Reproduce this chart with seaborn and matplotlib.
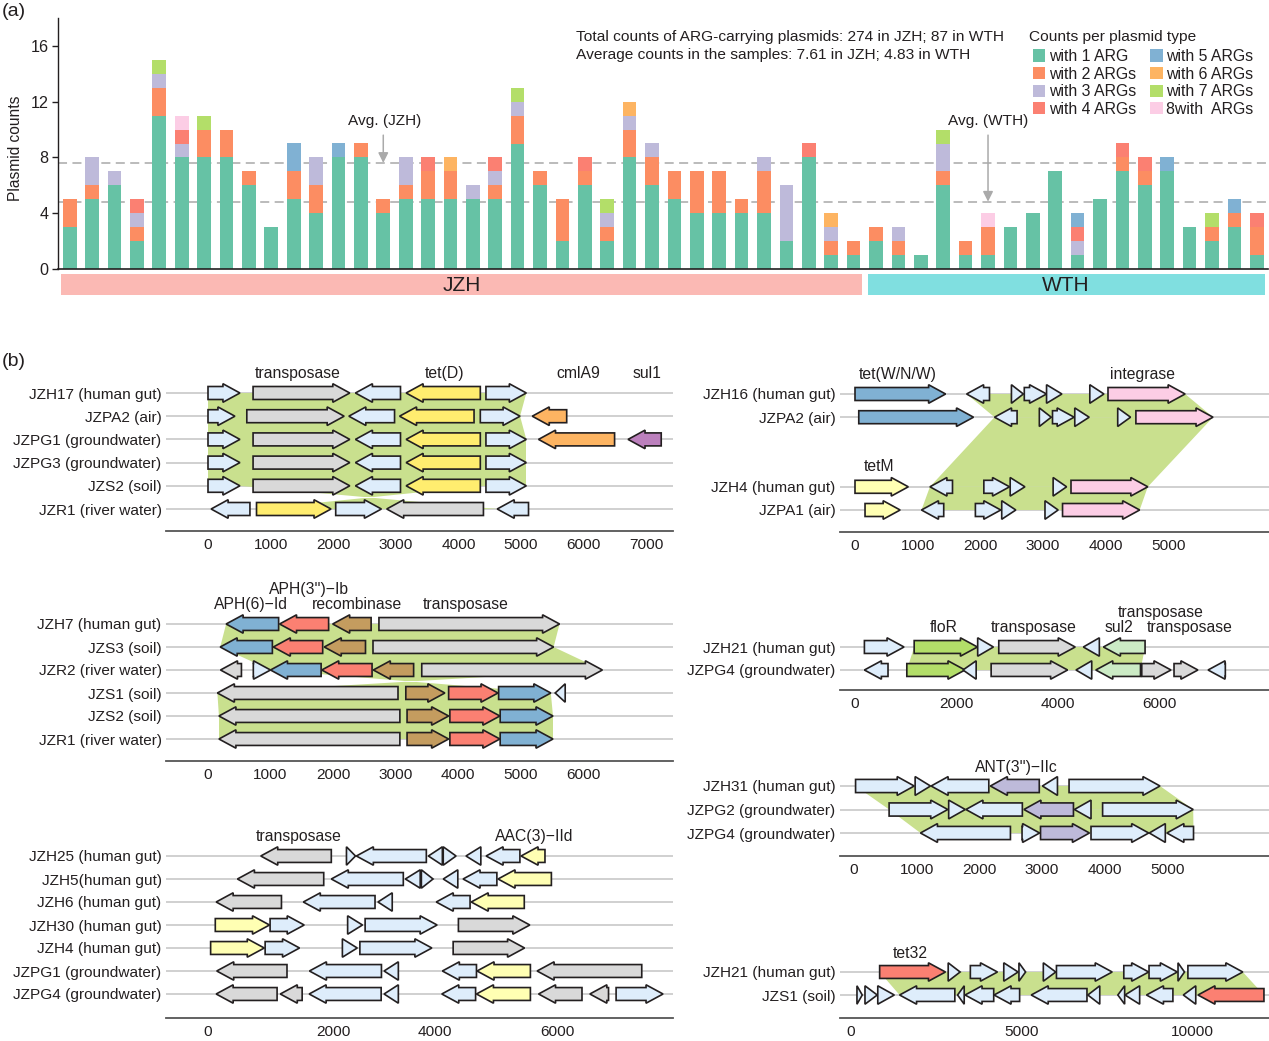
import matplotlib
matplotlib.use("Agg")
import matplotlib.pyplot as plt
from matplotlib.patches import Patch, Polygon, Rectangle
import numpy as np
import seaborn as sns

# ---- panel (a) data
samples = list(range(54))
type_labels = ["with 1 ARG", "with 2 ARGs", "with 3 ARGs", "with 4 ARGs",
               "with 5 ARGs", "with 6 ARGs", "with 7 ARGs", "8with  ARGs"]
arg1 = [3, 5, 6, 2, 11, 8, 8, 8, 6, 3, 5, 4, 8, 8, 4, 5, 5, 5, 5, 5, 9, 6, 2, 6, 2, 8, 6, 5, 4, 4, 4, 4, 2, 8, 1, 1,
        2, 1, 1, 6, 1, 1, 3, 4, 7, 1, 5, 7, 6, 7, 3, 2, 3, 1]
arg2 = [2, 1, 0, 1, 2, 0, 2, 2, 1, 0, 2, 2, 0, 1, 1, 1, 2, 2, 0, 1, 2, 1, 3, 1, 1, 2, 2, 2, 3, 3, 1, 3, 0, 0, 1, 1,
        1, 1, 0, 1, 1, 2, 0, 0, 0, 0, 0, 1, 1, 0, 0, 1, 1, 2]
arg3 = [0, 2, 1, 1, 1, 1, 0, 0, 0, 0, 0, 2, 0, 0, 0, 2, 0, 0, 1, 1, 1, 0, 0, 0, 1, 1, 1, 0, 0, 0, 0, 1, 4, 0, 1, 0,
        0, 1, 0, 2, 0, 0, 0, 0, 0, 1, 0, 0, 0, 0, 0, 0, 0, 0]
arg4 = [0, 0, 0, 1, 0, 1, 0, 0, 0, 0, 0, 0, 0, 0, 0, 0, 1, 0, 0, 1, 0, 0, 0, 1, 0, 0, 0, 0, 0, 0, 0, 0, 0, 1, 0, 0,
        0, 0, 0, 0, 0, 0, 0, 0, 0, 1, 0, 1, 1, 0, 0, 0, 0, 1]
arg5 = [0, 0, 0, 0, 0, 0, 0, 0, 0, 0, 2, 0, 1, 0, 0, 0, 0, 0, 0, 0, 0, 0, 0, 0, 0, 0, 0, 0, 0, 0, 0, 0, 0, 0, 0, 0,
        0, 0, 0, 0, 0, 0, 0, 0, 0, 1, 0, 0, 0, 1, 0, 0, 1, 0]
arg6 = [0, 0, 0, 0, 0, 0, 0, 0, 0, 0, 0, 0, 0, 0, 0, 0, 0, 1, 0, 0, 0, 0, 0, 0, 0, 1, 0, 0, 0, 0, 0, 0, 0, 0, 1, 0,
        0, 0, 0, 0, 0, 0, 0, 0, 0, 0, 0, 0, 0, 0, 0, 0, 0, 0]
arg7 = [0, 0, 0, 0, 1, 0, 1, 0, 0, 0, 0, 0, 0, 0, 0, 0, 0, 0, 0, 0, 1, 0, 0, 0, 1, 0, 0, 0, 0, 0, 0, 0, 0, 0, 0, 0,
        0, 0, 0, 1, 0, 0, 0, 0, 0, 0, 0, 0, 0, 0, 0, 1, 0, 0]
arg8 = [0, 0, 0, 0, 0, 1, 0, 0, 0, 0, 0, 0, 0, 0, 0, 0, 0, 0, 0, 0, 0, 0, 0, 0, 0, 0, 0, 0, 0, 0, 0, 0, 0, 0, 0, 0,
        0, 0, 0, 0, 0, 1, 0, 0, 0, 0, 0, 0, 0, 0, 0, 0, 0, 0]
avg_jzh = 7.61
avg_wth = 4.83
n_jzh = 36

# ---- panel (b) data: genes are (start, end, kind), start > end means reverse strand
p1_names = ["JZH17 (human gut)", "JZPA2 (air)", "JZPG1 (groundwater)", "JZPG3 (groundwater)", "JZS2 (soil)", "JZR1 (river water)"]
p1_rows = [0, 1, 2, 3, 4, 5]
p1_genes = [
    [(0, 510, "other"), (720, 2265, "tnp"), (3075, 2355, "other"), (4350, 3165, "tetD"), (4440, 5085, "other")],
    [(0, 430, "other"), (620, 2175, "tnp"), (2980, 2250, "other"), (4250, 3060, "tetD"), (4350, 4985, "other"), (5730, 5180, "cml")],
    [(0, 510, "other"), (720, 2265, "tnp"), (3075, 2355, "other"), (4350, 3165, "tetD"), (4440, 5085, "other"), (6495, 5280, "cml"), (7240, 6710, "sul1")],
    [(0, 510, "other"), (720, 2265, "tnp"), (3075, 2355, "other"), (4350, 3165, "tetD"), (4440, 5085, "other")],
    [(0, 510, "other"), (720, 2265, "tnp"), (3075, 2355, "other"), (4350, 3165, "tetD"), (4440, 5085, "other")],
    [(670, 50, "other"), (775, 1965, "tetD"), (2040, 2770, "other"), (4400, 2855, "tnp"), (5120, 4620, "other")],
]
p1_ribbons = [(0, 1, 0, 5085, 0, 4985), (1, 2, 0, 4985, 0, 5085), (2, 3, 0, 5085, 0, 5085),
              (3, 4, 0, 5085, 0, 5085), (4, 5, 500, 4400, 4620, 775)]
p1_notes = [("transposase", 1440, -0.86), ("tet(D)", 3780, -0.86), ("cmlA9", 5910, -0.86), ("sul1", 7020, -0.86)]

p2_names = ["JZH16 (human gut)", "JZPA2 (air)", "JZH4 (human gut)", "JZPA1 (air)"]
p2_rows = [0, 1, 4, 5]
p2_genes = [
    [(0, 1445, "blue"), (2145, 1780, "other"), (2495, 2685, "other"), (2700, 3055, "other"), (3055, 3300, "other"), (3745, 3970, "other"), (4035, 5265, "pink")],
    [(60, 1890, "blue"), (2585, 2225, "other"), (2940, 3130, "other"), (3150, 3495, "other"), (3505, 3735, "other"), (4190, 4395, "other"), (4480, 5710, "pink")],
    [(0, 850, "pale"), (1555, 1195, "other"), (2055, 2465, "other"), (2475, 2710, "other"), (3160, 3375, "other"), (3445, 4670, "pink")],
    [(160, 720, "pale"), (1415, 1060, "other"), (1920, 2325, "other"), (2340, 2565, "other"), (3030, 3240, "other"), (3310, 4540, "pink")],
]
p2_ribbons = [(0, 1, 1780, 5265, 2225, 5710), (1, 2, 2225, 5710, 1195, 4670), (2, 3, 1195, 4670, 1060, 4540)]
p2_notes = [("tet(W/N/W)", 680, -0.86), ("integrase", 4590, -0.86), ("tetM", 390, 3.08)]

p3_names = ["JZH7 (human gut)", "JZS3 (soil)", "JZR2 (river water)", "JZS1 (soil)", "JZS2 (soil)", "JZR1 (river water)"]
p3_rows = [0, 1, 2, 3, 4, 5]
p3_genes = [
    [(1130, 290, "blue"), (1930, 1145, "red"), (2610, 1995, "brown"), (2735, 5625, "tnp")],
    [(1030, 195, "blue"), (1835, 1045, "red"), (2520, 1860, "brown"), (2640, 5530, "tnp")],
    [(535, 200, "tnp"), (725, 1000, "other"), (1810, 1000, "blue"), (2625, 1820, "red"), (3290, 2645, "brown"), (3420, 6310, "tnp")],
    [(3040, 150, "tnp"), (3165, 3790, "brown"), (3850, 4640, "red"), (4650, 5485, "blue"), (5715, 5555, "other")],
    [(3070, 175, "tnp"), (3185, 3850, "brown"), (3870, 4670, "red"), (4675, 5520, "blue")],
    [(3070, 175, "tnp"), (3185, 3850, "brown"), (3870, 4670, "red"), (4675, 5520, "blue")],
]
p3_ribbons = [(0, 1, 290, 5625, 195, 5530), (1, 2, 195, 5530, 1000, 6310), (2, 3, 1000, 6310, 5485, 150),
              (3, 4, 150, 5485, 175, 5520), (4, 5, 175, 5520, 175, 5520)]
p3_notes = [("APH(3'')\u2212Ib", 1610, -1.55), ("APH(6)\u2212Id", 680, -0.9), ("recombinase", 2390, -0.9), ("transposase", 4130, -0.9)]

p4_names = ["JZH21 (human gut)", "JZPG4 (groundwater)"]
p4_rows = [0, 1]
p4_genes = [
    [(185, 965, "other"), (1165, 2410, "green"), (2415, 2725, "other"), (2830, 4335, "tnp"), (4810, 4495, "other"), (5710, 4890, "mint")],
    [(650, 185, "other"), (1020, 2165, "green"), (2385, 2125, "other"), (2680, 4185, "tnp"), (4660, 4350, "other"), (5620, 4740, "mint"), (5645, 6220, "tnp"), (6280, 6750, "tnp"), (7290, 6950, "other")],
]
p4_ribbons = [(0, 1, 1165, 5710, 1020, 5620)]
p4_notes = [("floR", 1752, -0.9), ("transposase", 3523, -0.9), ("transposase", 6594, -0.9), ("sul2", 5197, -0.9), ("transposase", 6023, -1.55)]

p5_names = ["JZH31 (human gut)", "JZPG2 (groundwater)", "JZPG4 (groundwater)"]
p5_rows = [0, 1, 2]
p5_genes = [
    [(25, 960, "other"), (975, 1220, "other"), (2150, 1230, "other"), (2955, 2175, "lav"), (3245, 3005, "other"), (3430, 4880, "other")],
    [(560, 1495, "other"), (1510, 1775, "other"), (2685, 1785, "other"), (3500, 2710, "lav"), (3780, 3515, "other"), (3965, 5410, "other")],
    [(2495, 1060, "other"), (2680, 2960, "other"), (2975, 3755, "lav"), (3780, 4700, "other"), (4965, 4710, "other"), (5415, 4990, "other")],
]
p5_ribbons = [(0, 1, 25, 4880, 560, 5410), (1, 2, 560, 5410, 1060, 5415)]
p5_notes = [("ANT(3'')\u2212IIc", 2590, -0.84)]

p6_names = ["JZH25 (human gut)", "JZH5(human gut)", "JZH6 (human gut)", "JZH30 (human gut)", "JZH4 (human gut)", "JZPG1 (groundwater)", "JZPG4 (groundwater)"]
p6_rows = [0, 1, 2, 3, 4, 5, 6]
p6_genes = [
    [(2115, 905, "tnp"), (2375, 2530, "other"), (3745, 2545, "other"), (4020, 3780, "other"), (4035, 4255, "other"), (4680, 4425, "other"), (5350, 4770, "other"), (5780, 5370, "pale")],
    [(1985, 505, "tnp"), (3350, 2115, "other"), (3640, 3385, "other"), (3660, 3860, "other"), (4285, 4035, "other"), (4955, 4375, "other"), (5890, 4975, "pale")],
    [(1260, 140, "tnp"), (2865, 1635, "other"), (3160, 2915, "other"), (4495, 3915, "other"), (5425, 4515, "pale")],
    [(125, 1055, "pale"), (1065, 1650, "other"), (2395, 2650, "other"), (2695, 3930, "other"), (4295, 5520, "tnp")],
    [(45, 965, "pale"), (980, 1570, "other"), (2305, 2560, "other"), (2605, 3840, "other"), (4205, 5430, "tnp")],
    [(1355, 150, "tnp"), (2975, 1740, "other"), (3265, 3020, "other"), (4605, 4020, "other"), (5530, 4615, "pale"), (7440, 5645, "tnp")],
    [(1185, 140, "tnp"), (1615, 1240, "tnp"), (2970, 1735, "other"), (3265, 3020, "other"), (4590, 4010, "other"), (5530, 4605, "pale"), (6415, 5670, "tnp"), (6870, 6550, "tnp"), (7000, 7805, "other")],
]
p6_ribbons = []
p6_notes = [("transposase", 1550, -0.9), ("AAC(3)\u2212IId", 5590, -0.9)]

p7_names = ["JZH21 (human gut)", "JZS1 (soil)"]
p7_rows = [0, 1]
p7_genes = [
    [(840, 2770, "red"), (2850, 3200, "other"), (3500, 4295, "other"), (4480, 4900, "other"), (4925, 5120, "other"), (5640, 6005, "other"), (6025, 7660, "other"), (8000, 8730, "other"), (8740, 9570, "other"), (9590, 9780, "other"), (9880, 11490, "other")],
    [(175, 330, "other"), (410, 770, "other"), (785, 1270, "other"), (3045, 1425, "other"), (3320, 3125, "other"), (4185, 3345, "other"), (4945, 4195, "other"), (6920, 5285, "other"), (7295, 6945, "other"), (8025, 7825, "other"), (8465, 8035, "other"), (9440, 8665, "other"), (10110, 9745, "other"), (12110, 10175, "red")],
]
p7_ribbons = [(0, 1, 840, 11490, 1425, 12110)]
p7_notes = [("tet32", 1750, -0.85)]

# ticks: panel 6 labels sit unevenly in the original
p1_ticks = [0, 1000, 2000, 3000, 4000, 5000, 6000, 7000]
p2_ticks = [0, 1000, 2000, 3000, 4000, 5000]
p3_ticks = [0, 1000, 2000, 3000, 4000, 5000, 6000]
p4_ticks = [0, 2000, 4000, 6000]
p5_ticks = [0, 1000, 2000, 3000, 4000, 5000]
p6_ticks = [0, 2000, 4000, 6000]
p6_tick_pos = [0, 2150, 3885, 6000]
p7_ticks = [0, 5000, 10000]

# ---- styles
type_colors = ["#66c2a5", "#fc8d62", "#bebada", "#fb8072", "#80b1d3", "#fdb462", "#b3de69", "#fccde5"]
gene_colors = {"other": "#deedfb", "tnp": "#d9d9d9", "tetD": "#ffed6f", "cml": "#fdb462", "sul1": "#bc80bd",
               "pale": "#ffffb3", "blue": "#80b1d3", "red": "#fb8072", "brown": "#c49c5f", "pink": "#fccde5",
               "green": "#b3de69", "mint": "#ccebc5", "lav": "#bebada"}
ribbon_color = "#c9e08e"
ink = "#231f20"
W, H = 1269, 1041
fs = 11.1
fs_note = 11.3

sns.set_theme(style="ticks")
plt.rcParams["font.family"] = ["Liberation Sans", "DejaVu Sans"]
plt.rcParams["text.color"] = ink
plt.rcParams["xtick.labelcolor"] = ink
plt.rcParams["ytick.labelcolor"] = ink

fig = plt.figure(figsize=(W / 100, H / 100), dpi=100)
fig.patch.set_facecolor("white")


def px_axes(left, top, right, bottom):
    return fig.add_axes([left / W, 1 - bottom / H, (right - left) / W, (bottom - top) / H])


# ---- panel (a)
ax = px_axes(58.5, 18, 1268, 269)
for y in [avg_jzh, avg_wth]:
    ax.axhline(y, color="#b5b5b5", lw=1.3, ls=(0, (5, 3)), zorder=0)
bottoms = np.zeros(len(samples))
for vals, col in zip([arg1, arg2, arg3, arg4, arg5, arg6, arg7, arg8], type_colors):
    sns.barplot(x=samples, y=vals, bottom=bottoms, color=col, saturation=1, width=0.61, ax=ax, zorder=2,
                errorbar=None, linewidth=0, edgecolor="none")
    bottoms = bottoms + np.array(vals)
ax.set_xlim(-0.5, 53.5)
ax.set_ylim(0, 18)
ax.set_yticks([0, 4, 8, 12, 16])
ax.set_xticks([])
ax.set_xlabel("")
ax.set_ylabel("Plasmid counts", fontsize=fs + 0.1, color=ink)
ax.yaxis.set_label_coords((23 - 58.5) / 1209.5, 0.482)
ax.tick_params(axis="y", labelsize=fs + 0.5, length=4, width=1, color=ink, pad=3)
sns.despine(ax=ax)
ax.spines["left"].set_color(ink)
ax.spines["bottom"].set_color(ink)
ax.spines["left"].set_linewidth(1)
ax.spines["bottom"].set_linewidth(1.2)

strip_y = -1.87
strip_h = 1.51
ax.add_patch(Rectangle((-0.40, strip_y), n_jzh - 0.24, strip_h, color="#fbb9b4", clip_on=False, lw=0))
ax.add_patch(Rectangle((n_jzh - 0.37, strip_y), 53.35 - n_jzh + 0.37, strip_h, color="#80dfe0", clip_on=False, lw=0))
ax.text(17.5, strip_y + strip_h / 2 - 0.1, "JZH", ha="center", va="center", fontsize=15)
ax.text(44.45, strip_y + strip_h / 2 - 0.1, "WTH", ha="center", va="center", fontsize=15)

ax.annotate("", xy=(14, avg_jzh), xytext=(14, 9.6), zorder=5,
            arrowprops=dict(arrowstyle="-|>", color="#aaaaaa", lw=1.1, shrinkA=0, shrinkB=0, mutation_scale=15))
ax.annotate("", xy=(41, avg_wth), xytext=(41, 9.6), zorder=5,
            arrowprops=dict(arrowstyle="-|>", color="#aaaaaa", lw=1.1, shrinkA=0, shrinkB=0, mutation_scale=15))
ax.text(14.05, 10.6, "Avg. (JZH)", ha="center", va="center", fontsize=fs)
ax.text(41, 10.6, "Avg. (WTH)", ha="center", va="center", fontsize=fs)

fig.text(576 / W, 1 - 36.5 / H, "Total counts of ARG-carrying plasmids: 274 in JZH; 87 in WTH", va="center", fontsize=11.15)
fig.text(576 / W, 1 - 55.5 / H, "Average counts in the samples: 7.61 in JZH; 4.83 in WTH", va="center", fontsize=11.15)

fig.text(1029 / W, 1 - 36.5 / H, "Counts per plasmid type", va="center", fontsize=11.15)
handles = [Patch(color=c, lw=0) for c in type_colors]
ax.legend(handles, type_labels, ncol=2, frameon=False, fontsize=11.4, loc="upper left",
          bbox_to_anchor=(1033 / W, 1 - 49 / H), bbox_transform=fig.transFigure,
          handlelength=0.76, handleheight=0.8, handletextpad=0.25, labelspacing=0.16,
          columnspacing=0.9, borderpad=0, borderaxespad=0)

fig.text(2 / W, 1 - 11 / H, "(a)", va="center", fontsize=14)
fig.text(2 / W, 1 - 362 / H, "(b)", va="center", fontsize=14)


# ---- panel (b)
def arrow_points(start, end, row, head):
    # gene arrow outline in data coordinates
    d = 1 if end > start else -1
    length = abs(end - start)
    body, wing = 0.28, 0.40
    if length <= head:
        return [(start, row - wing), (end, row), (start, row + wing)]
    neck = end - d * head
    return [(start, row - body), (neck, row - body), (neck, row - wing), (end, row),
            (neck, row + wing), (neck, row + body), (start, row + body)]


def draw_panel(names, rows, genes, ribbons, notes, ticks, left, right, axis_y, row0_y, row_px, zero_x, px_per_k, tick_pos=None):
    top = row0_y - 2 * row_px
    a = px_axes(left, top, right, axis_y)
    a.set_xlim((left - zero_x) / px_per_k * 1000, (right - zero_x) / px_per_k * 1000)
    a.set_ylim((axis_y - row0_y) / row_px, -2)
    for r in rows:
        a.axhline(r, color="#c4c4c4", lw=1.1, zorder=1)
    for i, j, a0, b0, a1, b1 in ribbons:
        a.add_patch(Polygon([(a0, rows[i]), (b0, rows[i]), (b1, rows[j]), (a1, rows[j])],
                            closed=True, facecolor=ribbon_color, edgecolor="none", zorder=2))
    head = 17 / px_per_k * 1000
    for r, row_genes in zip(rows, genes):
        for start, end, kind in row_genes:
            a.add_patch(Polygon(arrow_points(start, end, r, head), closed=True, facecolor=gene_colors[kind],
                                edgecolor=ink, lw=1.2, joinstyle="miter", zorder=3))
    for label, x, y in notes:
        a.text(x, y + 0.04, label, ha="center", va="center", fontsize=fs_note)
    a.set_yticks(rows)
    a.set_yticklabels(names)
    a.set_xticks(ticks if tick_pos is None else tick_pos)
    a.set_xticklabels([str(t) for t in ticks])
    a.tick_params(axis="both", length=0, labelsize=fs, pad=3.2)
    a.tick_params(axis="x", pad=5)
    a.patch.set_alpha(0)
    sns.despine(ax=a, left=True)
    a.spines["bottom"].set_color("#555555")
    a.spines["bottom"].set_linewidth(1.3)
    return a


draw_panel(p1_names, p1_rows, p1_genes, p1_ribbons, p1_notes, p1_ticks, 166, 673, 531, 393, 23.2, 208, 62.6)
draw_panel(p2_names, p2_rows, p2_genes, p2_ribbons, p2_notes, p2_ticks, 840, 1269, 532, 394, 23.2, 855, 62.7)
draw_panel(p3_names, p3_rows, p3_genes, p3_ribbons, p3_notes, p3_ticks, 166, 673, 761, 624, 23.0, 208, 62.5)
draw_panel(p4_names, p4_rows, p4_genes, p4_ribbons, p4_notes, p4_ticks, 840, 1269, 690, 647, 23.0, 855, 50.8)
draw_panel(p5_names, p5_rows, p5_genes, p5_ribbons, p5_notes, p5_ticks, 840, 1269, 856, 786, 23.5, 854, 62.7)
draw_panel(p6_names, p6_rows, p6_genes, p6_ribbons, p6_notes, p6_ticks, 166, 673, 1018, 856, 23.0, 208, 58.3, p6_tick_pos)
draw_panel(p7_names, p7_rows, p7_genes, p7_ribbons, p7_notes, p7_ticks, 840, 1269, 1018, 972, 23.0, 851, 34.1)

fig.savefig("out.png", dpi=100)
